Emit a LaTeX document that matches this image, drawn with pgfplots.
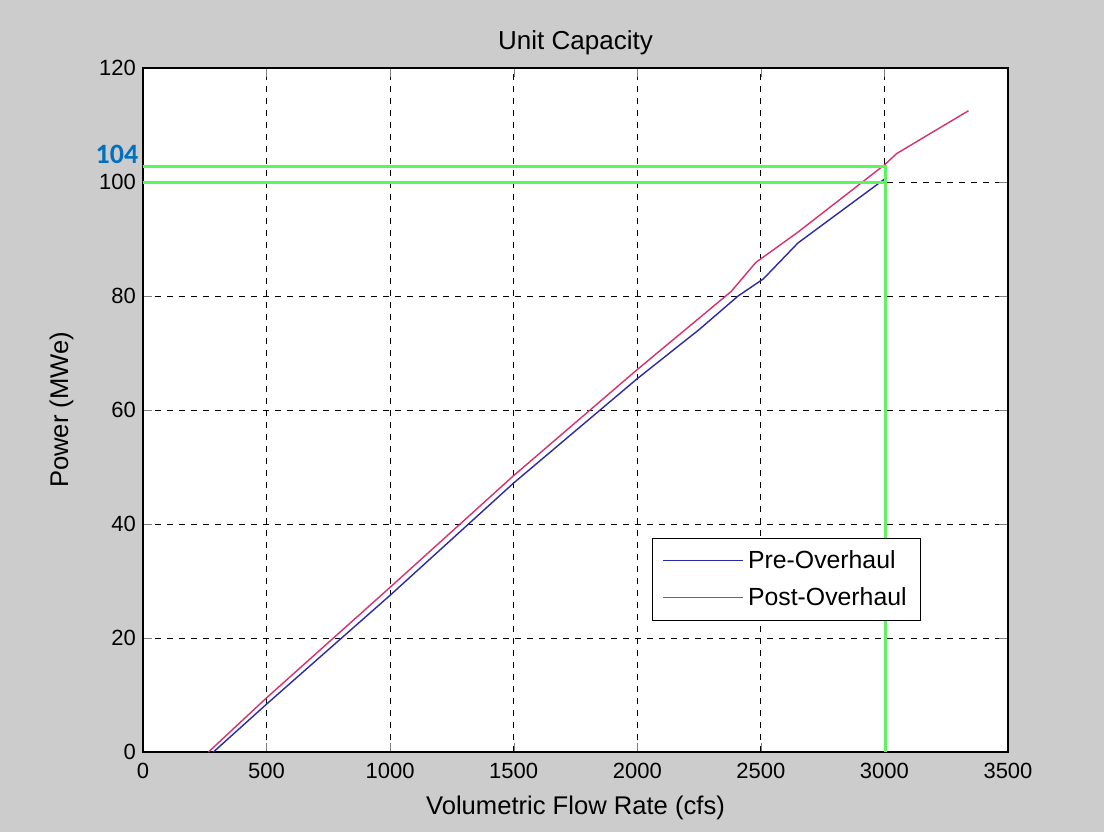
\documentclass[border=0pt]{standalone}
\usepackage{pgfplots}
\pgfplotsset{compat=1.18}
\usepackage{fontspec}
\setmainfont{Liberation Sans}
\newfontfamily\calibri{Carlito}
\definecolor{figgray}{HTML}{CCCCCC}
\definecolor{glines}{HTML}{5CF55C}
\definecolor{lblblue}{HTML}{0070C0}
\definecolor{preblue}{HTML}{2A2AA8}
\definecolor{postred}{HTML}{D8306A}

\begin{document}
\begin{tikzpicture}[x=1pt,y=1pt]
\fill[figgray] (0,0) rectangle (552,416);
\useasboundingbox (0,0) rectangle (552,416);
\begin{axis}[
  at={(71.5pt,40pt)}, anchor=south west,
  scale only axis, width=432.5pt, height=342pt,
  axis background/.style={fill=white},
  xmin=0, xmax=3500, ymin=0, ymax=120,
  xtick={0,500,...,3500}, ytick={0,20,...,120},
  tick align=inside,
  grid=major,
  major grid style={black, line width=0.5pt, dash pattern=on 3pt off 3pt},
  axis line style={line width=0.6pt},
  tick label style={font=\fontsize{11}{13}\selectfont},
  xticklabel style={yshift=-2pt},
  /pgf/number format/1000 sep={},
  /pgf/number format/assume math mode=true,
  title={Unit Capacity},
  title style={font=\fontsize{13}{15}\selectfont, yshift=-3pt},
  xlabel={Volumetric Flow Rate (cfs)},
  ylabel={Power (MWe)},
  label style={font=\fontsize{12.8}{15}\selectfont},
  xlabel style={yshift=-2pt},
  ylabel style={yshift=6pt},
  legend style={at={(axis cs:2060,37.6)}, anchor=north west,
    draw=black, line width=0.6pt, inner xsep=5pt, inner ysep=4pt,
    row sep=4pt, font=\fontsize{12.4}{14}\selectfont},
  legend cell align=left,
  legend image code/.code={\draw[#1] (0pt,0pt) -- (40pt,0pt);},
]
\addplot[preblue, line width=0.7pt] coordinates {
  (285,0) (500,8.4) (1000,27.5) (1500,47.2) (2000,65.5) (2250,74.1)
  (2408,80.0) (2510,83.0) (2650,89.3) (3000,100.5)};
\addlegendentry{Pre-Overhaul}
\addplot[postred, line width=0.7pt] coordinates {
  (265,0) (500,9.5) (1000,28.9) (1500,48.5) (2000,67.1) (2250,76.1)
  (2380,80.8) (2480,85.9) (2650,91.2) (3000,103.0) (3050,105.0) (3340,112.5)};
\addlegendentry{Post-Overhaul}
\addplot[glines, line width=1.5pt, forget plot] coordinates {
  (0,102.8) (3003,102.8) (3003,0)};
\addplot[glines, line width=1.5pt, forget plot] coordinates {
  (0,100) (3003,100)};
\end{axis}
\node[font=\calibri\bfseries\fontsize{14}{16}\selectfont, text=lblblue] at (58.5,339) {104};
\end{tikzpicture}
\end{document}
